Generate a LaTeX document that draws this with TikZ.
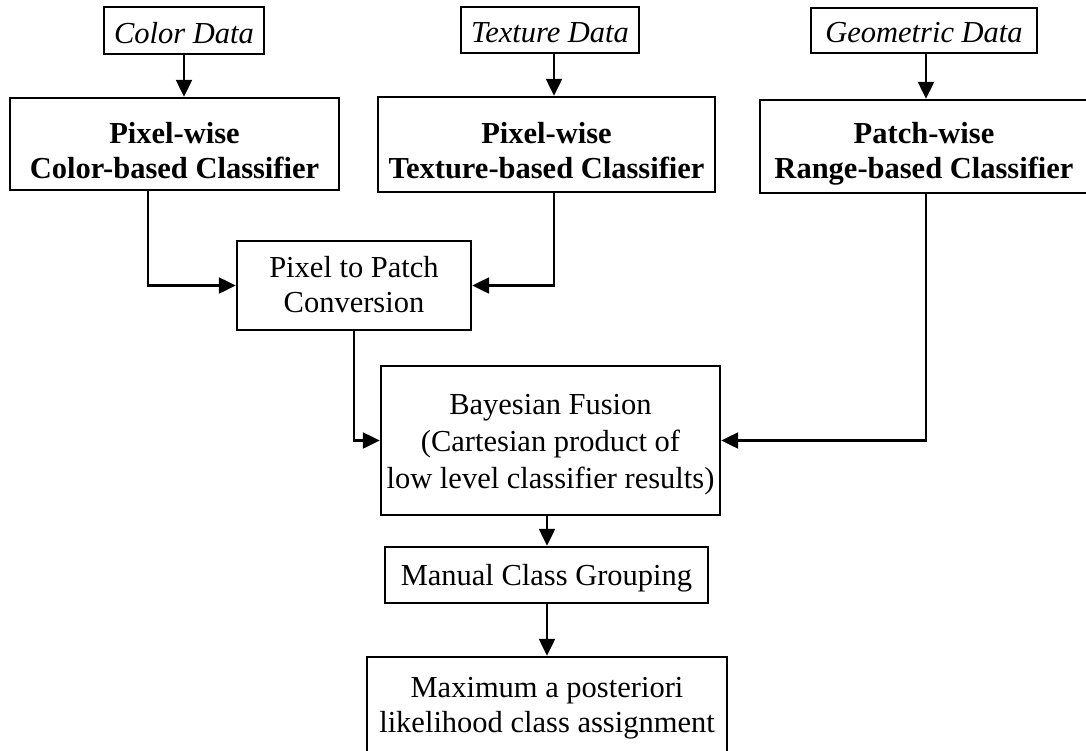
\documentclass[tikz,border=0pt]{standalone}
\usepackage{fontspec}
\setmainfont{Liberation Serif}
\usetikzlibrary{arrows.meta}
\begin{document}
\begin{tikzpicture}[x=1pt, y=-1pt,
  box/.style={draw, line width=2.4pt, inner sep=0pt},
  txt/.style={align=center, inner sep=0pt, font=\fontsize{30.5}{35}\selectfont},
  boldtxt/.style={txt, font=\fontsize{30.5}{35}\selectfont\bfseries},
  itxt/.style={txt, font=\fontsize{30.5}{35}\selectfont\itshape},
  link/.style={line width=2.3pt, -{Triangle[length=17pt, width=16pt]}}]
\useasboundingbox (0,0) rectangle (1086,750);
\clip (0,0) rectangle (1086,750);

% input data boxes
\node[box, minimum width=160pt, minimum height=47pt] (cdata) at (184,30.5) {};
\node[box, minimum width=178pt, minimum height=46pt] (tdata) at (550,30) {};
\node[box, minimum width=226pt, minimum height=45pt] (gdata) at (924,30.5) {};
\node[itxt] (cdata-t) at (184,33) {Color Data};
\node[itxt] (tdata-t) at (550,33) {Texture Data};
\node[itxt] (gdata-t) at (924,33) {Geometric Data};

% low level classifiers
\node[box, minimum width=329pt, minimum height=92pt] (ccls) at (174.5,144) {};
\node[box, minimum width=337pt, minimum height=95pt] (tcls) at (546.5,144.5) {};
\node[box, minimum width=328pt, minimum height=93pt] (pcls) at (924,146.5) {};
\node[boldtxt] (ccls-t) at (174.5,151) {Pixel-wise\\Color-based Classifier};
\node[boldtxt] (tcls-t) at (546.5,151) {Pixel-wise\\Texture-based Classifier};
\node[boldtxt] (pcls-t) at (924,154) {Patch-wise\\Range-based Classifier};

% conversion, fusion and decision stages
\node[box, minimum width=234pt, minimum height=89pt] (p2p) at (354,285.5) {};
\node[txt] (p2p-t) at (354,285) {Pixel to Patch\\Conversion};
\node[box, minimum width=339pt, minimum height=149pt] (bayes) at (550.5,440.5) {};
\node[txt, font=\fontsize{30.5}{37}\selectfont] (bayes-t) at (550.5,445) {Bayesian Fusion\\(Cartesian product of\\low level classifier results)};
\node[box, minimum width=323pt, minimum height=56pt] (manual) at (546.5,575) {};
\node[txt] (manual-t) at (546.5,578) {Manual Class Grouping};
\node[box, minimum width=360pt, minimum height=95pt] (mapc) at (547,704.5) {};
\node[txt] (mapc-t) at (547,708) {Maximum a posteriori\\likelihood class assignment};

% routing columns
\coordinate (cx) at (148,0);
\coordinate (tx) at (554,0);
\coordinate (gx) at (926,0);
\coordinate (mx) at (547,0);

% connectors
\draw[link] (cdata.south) -- (cdata.south |- ccls.north);
\draw[link] (tdata.south -| tx) -- (tcls.north -| tx);
\draw[link] (gdata.south -| gx) -- (pcls.north -| gx);
\draw[link] (ccls.south -| cx) |- (p2p.west);
\draw[link] (tcls.south -| tx) |- (p2p.east);
\draw[link] (p2p.south) |- (bayes.west);
\draw[link] (pcls.south -| gx) |- (bayes.east);
\draw[link] (bayes.south -| mx) -- (manual.north -| mx);
\draw[link] (manual.south -| mx) -- (mapc.north -| mx);
\end{tikzpicture}
\end{document}
